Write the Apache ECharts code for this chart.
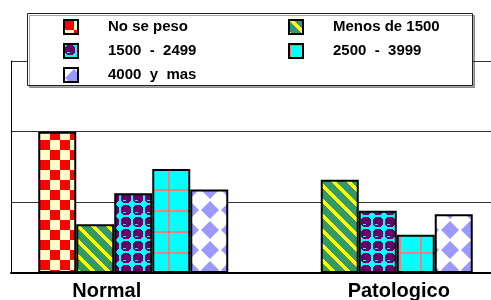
<!DOCTYPE html>
<html>
<head>
<meta charset="utf-8">
<title>Peso</title>
<script src="https://cdn.jsdelivr.net/npm/echarts@6/dist/echarts.min.js"></script>
<style>
  html, body { margin: 0; padding: 0; background: #fff; }
  #chart { width: 491px; height: 300px; }
</style>
</head>
<body>
<div id="chart"></div>
<script>
// datos
var categorias = ['Normal', 'Patologico'];
var series_nombres = ['No se peso', 'Menos de 1500', '1500  -  2499', '2500  -  3999', '4000  y  mas'];
var noSePeso = [2.0, null];
var menos1500 = [0.69, 1.32];
var de1500a2499 = [1.13, 0.88];
var de2500a3999 = [1.47, 0.54];
var de4000ymas = [1.18, 0.83];

var FONT = "'Liberation Sans', Arial, sans-serif";

// patron pixel por pixel
function patron(w, h, fn) {
    var c = document.createElement('canvas');
    c.width = w;
    c.height = h;
    var ctx = c.getContext('2d');
    for (var y = 0; y < h; y++) {
        for (var x = 0; x < w; x++) {
            ctx.fillStyle = fn(x, y);
            ctx.fillRect(x, y, 1, 1);
        }
    }
    return {image: c, repeat: 'repeat'};
}

var pCuadros = patron(20, 20, function (x, y) {
    return ((Math.floor(x / 10) + Math.floor(y / 10)) % 2 === 0) ? '#FF0000' : '#FFFFCC';
});
var pRayas = patron(15, 15, function (x, y) {
    var d = ((x - y) % 15 + 15) % 15;
    return d < 5 ? '#FFFF00' : '#339966';
});
var pPuntos = patron(12, 12, function (x, y) {
    var dx = x + 0.5 - 6, dy = y + 0.5 - 6;
    if (y === 8 && x >= 3 && x <= 5) return '#00FFFF';
    return (dx * dx + dy * dy <= 30) ? '#660066' : '#00FFFF';
});
var pRejilla = patron(21, 21, function (x, y) {
    return (x < 2 || y < 2) ? '#F08080' : '#00FFFF';
});
var pRombos = patron(20, 20, function (x, y) {
    var d = Math.abs(x + 0.5 - 10) + Math.abs(y + 0.5 - 10);
    if (d <= 8.5) return '#9999FF';
    if (d <= 9.5) return '#CCCCFF';
    return '#FFFFFF';
});

var patrones = [pCuadros, pRayas, pPuntos, pRejilla, pRombos];
var valores = [noSePeso, menos1500, de1500a2499, de2500a3999, de4000ymas];

var series = [];
for (var i = 0; i < series_nombres.length; i++) {
    series.push({
        name: series_nombres[i],
        type: 'bar',
        data: valores[i],
        barWidth: 38,
        barGap: '0%',
        itemStyle: {color: patrones[i], borderColor: '#000', borderWidth: 2}
    });
}

var chart = echarts.init(document.getElementById('chart'));
chart.setOption({
    animation: false,
    textStyle: {fontFamily: FONT},
    grid: {left: 11, top: 61, width: 489, bottom: 27, outerBoundsMode: 'none', containLabel: false},
    graphic: [{
        type: 'rect',
        z: 5,
        shape: {x: 27.5, y: 13.5, width: 445, height: 72},
        style: {fill: '#fff', stroke: '#222', lineWidth: 1,
            shadowColor: 'rgba(0,0,0,0.35)', shadowOffsetX: 2, shadowOffsetY: 2}
    }],
    legend: {
        data: series_nombres,
        z: 6,
        left: 63,
        top: 19,
        width: 450,
        padding: 0,
        icon: 'rect',
        itemWidth: 14,
        itemHeight: 14,
        itemGap: 8,
        selectedMode: false,
        itemStyle: {borderColor: '#000', borderWidth: 2},
        textStyle: {fontFamily: FONT, fontSize: 15, fontWeight: 'bold', color: '#000',
            width: 172, lineHeight: 15, padding: [0, 0, 0, 25]}
    },
    xAxis: {
        type: 'category',
        data: categorias,
        axisLine: {lineStyle: {color: '#000', width: 2}},
        axisTick: {show: false},
        axisLabel: {
            interval: 0,
            margin: 8,
            formatter: function (v, i) {
                return '{' + (i === 0 ? 'a' : 'b') + '|' + v + '}';
            },
            rich: {
                a: {fontFamily: FONT, fontSize: 20, fontWeight: 'bold', color: '#000', padding: [0, 53, 0, 0]},
                b: {fontFamily: FONT, fontSize: 20, fontWeight: 'bold', color: '#000', padding: [0, 0, 0, 42]}
            }
        }
    },
    yAxis: {
        type: 'value',
        min: 0,
        max: 3,
        interval: 1,
        axisLine: {show: true, lineStyle: {color: '#000', width: 1}},
        axisTick: {show: false},
        axisLabel: {show: false},
        splitLine: {lineStyle: {color: '#333', width: 1}}
    },
    series: series
});
</script>
</body>
</html>
